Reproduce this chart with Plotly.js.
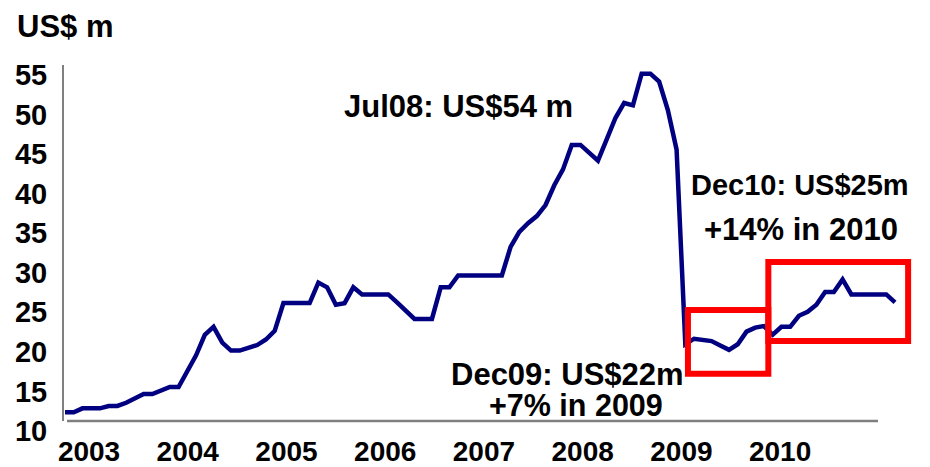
<!DOCTYPE html>
<html>
<head>
<meta charset="utf-8">
<script src="https://cdn.plot.ly/plotly-3.0.1.min.js"></script>
<style>
html,body{margin:0;padding:0;background:#ffffff;}
#chart{width:930px;height:467px;}
</style>
</head>
<body>
<div id="chart"></div>
<script>
// ---- data (monthly, Jan 2003 - Dec 2010), US$ m ----
const months = [
  'Jan03','Feb03','Mar03','Apr03','May03','Jun03','Jul03','Aug03','Sep03','Oct03','Nov03','Dec03',
  'Jan04','Feb04','Mar04','Apr04','May04','Jun04','Jul04','Aug04','Sep04','Oct04','Nov04','Dec04',
  'Jan05','Feb05','Mar05','Apr05','May05','Jun05','Jul05','Aug05','Sep05','Oct05','Nov05','Dec05',
  'Jan06','Feb06','Mar06','Apr06','May06','Jun06','Jul06','Aug06','Sep06','Oct06','Nov06','Dec06',
  'Jan07','Feb07','Mar07','Apr07','May07','Jun07','Jul07','Aug07','Sep07','Oct07','Nov07','Dec07',
  'Jan08','Feb08','Mar08','Apr08','May08','Jun08','Jul08','Aug08','Sep08','Oct08','Nov08','Dec08',
  'Jan09','Feb09','Mar09','Apr09','May09','Jun09','Jul09','Aug09','Sep09','Oct09','Nov09','Dec09',
  'Jan10','Feb10','Mar10','Apr10','May10','Jun10','Jul10','Aug10','Sep10','Oct10','Nov10','Dec10'
];
const values = [
  11.1, 11.1, 11.6, 11.6, 11.6, 11.9, 11.9, 12.3, 12.9, 13.4, 13.4, 13.9,
  14.3, 14.3, 16.4, 18.3, 20.9, 21.9, 19.9, 18.9, 18.9, 19.3, 19.6, 20.3,
  21.4, 24.9, 24.9, 24.9, 24.9, 27.5, 26.9, 24.7, 24.9, 26.9, 26.0, 26.0,
  26.0, 26.0, 25.0, 24.0, 22.9, 22.9, 22.9, 26.9, 26.9, 28.4, 28.4, 28.4,
  28.4, 28.4, 28.4, 32.0, 33.9, 35.0, 35.9, 37.3, 39.8, 41.8, 44.9, 44.9,
  43.9, 42.9, 45.6, 48.3, 50.2, 49.9, 53.9, 53.9, 52.9, 49.3, 44.3, 19.7,
  20.4, 20.25, 20.1, 19.55, 19.0, 19.7, 21.3, 21.8, 22.0, 20.9, 21.9, 21.9,
  23.3, 23.8, 24.7, 26.3, 26.3, 27.9, 26.0, 26.0, 26.0, 26.0, 26.0, 25.0
];
const yearLabels = ['2003','2004','2005','2006','2007','2008','2009','2010'];
const yTickValues = [10, 15, 20, 25, 30, 35, 40, 45, 50, 55];
const annotationTexts = ['Jul08: US$54 m', 'Dec10: US$25m', '+14% in 2010', 'Dec09: US$22m', '+7% in 2009'];

// ---- layout helpers ----
const W = 930, H = 467;
const M = {l: 64, r: 15, t: 65, b: 46};
const plotW = W - M.l - M.r, plotH = H - M.t - M.b;
const px2paperX = px => (px - M.l) / plotW;
const px2paperY = py => (H - M.b - py) / plotH;

const xIdx = months.map((m, i) => i);
const labelStart = 2.75, labelStep = 11.3;
const xTickVals = yearLabels.map((y, k) => labelStart + k * labelStep);

const FONT = 'Liberation Sans, Arial, Helvetica, sans-serif';

const trace = {
  x: xIdx,
  y: values,
  text: months,
  type: 'scatter',
  mode: 'lines',
  line: {color: '#000080', width: 4.5},
  hovertemplate: '%{text}: %{y}<extra></extra>'
};

function ann(text, cx, cy, size) {
  return {
    text: text, xref: 'paper', yref: 'paper',
    x: px2paperX(cx), y: px2paperY(cy),
    xanchor: 'center', yanchor: 'middle', showarrow: false,
    font: {family: FONT, size: size, color: '#000000', weight: 'bold'}
  };
}

const layout = {
  width: W, height: H,
  margin: M,
  paper_bgcolor: '#ffffff', plot_bgcolor: '#ffffff',
  showlegend: false,
  font: {family: FONT, color: '#000000'},
  title: {
    text: 'US$ m', xref: 'container', yref: 'container',
    x: 17 / W, xanchor: 'left', y: 1 - 26 / H, yanchor: 'middle',
    font: {family: FONT, size: 31, color: '#000000', weight: 'bold'}
  },
  xaxis: {
    range: [-1 / 8.737, (W - M.r - 65) / 8.737],
    showline: false, showgrid: false, zeroline: false,
    tickmode: 'array', tickvals: xTickVals, ticktext: yearLabels,
    ticks: '', ticklabelstandoff: 11,
    tickfont: {family: FONT, size: 28, color: '#000000', weight: 'bold'},
    fixedrange: true
  },
  yaxis: {
    range: [10, 55],
    showline: true, linecolor: '#808080', linewidth: 2,
    showgrid: false, zeroline: false,
    tickmode: 'array', tickvals: yTickValues,
    ticks: '', ticklabelshift: 10, ticklabelstandoff: 9,
    tickfont: {family: FONT, size: 29, color: '#000000', weight: 'bold'},
    fixedrange: true
  },
  shapes: [
    {type: 'line', xref: 'paper', yref: 'paper', x0: px2paperX(67), x1: px2paperX(878), y0: 0, y1: 0,
     line: {color: '#808080', width: 2.5}},
    {type: 'rect', xref: 'x', yref: 'y', x0: 71.3, x1: 80.5, y0: 15.98, y1: 24.03,
     line: {color: '#ff0000', width: 6}, fillcolor: 'rgba(0,0,0,0)'},
    {type: 'rect', xref: 'x', yref: 'y', x0: 80.5, x1: 96.5, y0: 20.1, y1: 30.1,
     line: {color: '#ff0000', width: 6}, fillcolor: 'rgba(0,0,0,0)'}
  ],
  annotations: [
    ann(annotationTexts[0], 458, 106, 31),
    ann(annotationTexts[1], 799.5, 185, 29),
    ann(annotationTexts[2], 800.5, 229, 31),
    ann(annotationTexts[3], 567.5, 374, 31),
    ann(annotationTexts[4], 576, 405, 30.5)
  ]
};

Plotly.newPlot('chart', [trace], layout, {displayModeBar: false, staticPlot: true});
</script>
</body>
</html>
